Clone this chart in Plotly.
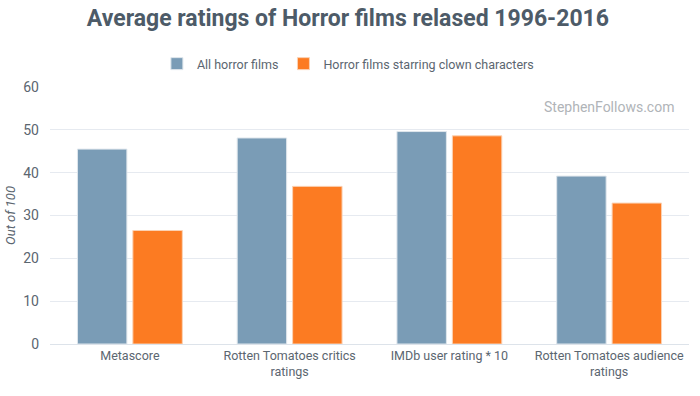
import plotly.graph_objects as go

categories = ["Metascore", "Rotten Tomatoes critics<br>ratings", "IMDb user rating * 10", "Rotten Tomatoes audience<br>ratings"]
all_horror = [45.5, 48.1, 49.6, 39.2]
clown_horror = [26.5, 36.8, 48.6, 32.9]
series_names = ["All horror films", "Horror films starring clown characters"]
y_ticks = [0, 10, 20, 30, 40, 50, 60]

BLUE = "#7a9cb6"
ORANGE = "#fc7b22"
TEXT = "#5b6670"

fig = go.Figure()
fig.add_trace(go.Bar(x=categories, y=all_horror, name=series_names[0],
                     marker=dict(color=BLUE, line=dict(color="#dfe6ec", width=1))))
fig.add_trace(go.Bar(x=categories, y=clown_horror, name=series_names[1],
                     marker=dict(color=ORANGE, line=dict(color="#fbd2b4", width=1))))

fig.update_layout(
    width=700, height=396,
    paper_bgcolor="white", plot_bgcolor="white",
    margin=dict(l=50, r=11, t=87, b=52, autoexpand=False),
    font=dict(family="Roboto", color=TEXT, size=12),
    title=dict(text="<b>Average ratings of Horror films relased 1996-2016</b>",
               x=0.497, xanchor="center", xref="container", y=1 - 18 / 396, yanchor="middle", yref="container",
               font=dict(family="Roboto", size=23, color="#4d5b68")),
    barmode="group", bargap=0.306, bargroupgap=0.108,
    legend=dict(orientation="h", x=0.497, xanchor="center", xref="container",
                y=1 - 64 / 396, yanchor="middle", yref="container",
                font=dict(size=12.5, color=TEXT), itemwidth=30, tracegroupgap=0),
    xaxis=dict(showline=True, linecolor="#dde3ea", linewidth=1, ticks="", automargin=False,
               tickfont=dict(size=12.5, color=TEXT)),
    yaxis=dict(range=[0, 60], tickvals=y_ticks, gridcolor="#e6eaf0", zeroline=False, automargin=False,
               tickfont=dict(size=14, color=TEXT), ticks="", ticklabelstandoff=10,
               title=dict(text="<i>Out of 100</i>", font=dict(size=13, color=TEXT), standoff=4)),
    annotations=[dict(text="StephenFollows.com", xref="paper", yref="paper",
                      x=0.98, y=0.922, xanchor="right", yanchor="middle", showarrow=False,
                      font=dict(size=14, color="#b0b4b8"))],
)

fig.write_html("out.html", config={"displayModeBar": False},
               post_script="document.body.style.margin='0';document.body.style.overflow='hidden';")
